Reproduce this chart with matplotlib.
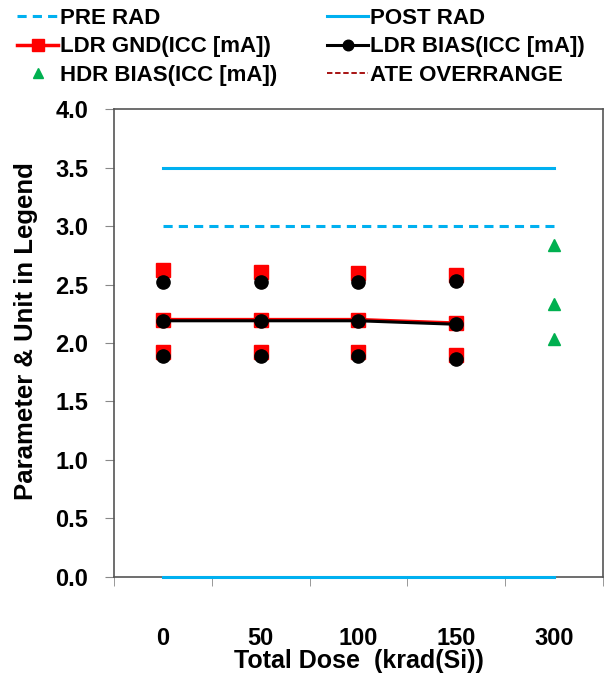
import numpy as np
import matplotlib
matplotlib.use('Agg')
import matplotlib.pyplot as plt

plt.rcParams['font.family'] = ['Liberation Sans', 'DejaVu Sans']
plt.rcParams['font.weight'] = 'bold'

# categories (x axis)
doses = ['0', '50', '100', '150', '300']

# spec limits
pre_rad = [3.0, 3.0, 3.0, 3.0, 3.0]
post_rad = [3.5, 3.5, 3.5, 3.5, 3.5]
post_rad_low = [0.0, 0.0, 0.0, 0.0, 0.0]

# LDR GND (ICC [mA]) : max / mean / min
ldr_gnd_max = [2.62, 2.61, 2.60, 2.58]
ldr_gnd_mean = [2.20, 2.20, 2.20, 2.17]
ldr_gnd_min = [1.92, 1.92, 1.92, 1.90]

# LDR BIAS (ICC [mA]) : max / mean / min
ldr_bias_max = [2.52, 2.52, 2.52, 2.53]
ldr_bias_mean = [2.19, 2.19, 2.19, 2.16]
ldr_bias_min = [1.89, 1.89, 1.89, 1.86]

# HDR BIAS (ICC [mA]) at 300 krad
hdr_bias = [2.84, 2.33, 2.03]

blue = '#00B0F0'
red = '#FF0000'
green = '#00B050'
darkred = '#A00000'

fig = plt.figure(figsize=(6.05, 6.78), dpi=100)
ax = fig.add_axes([0.1884, 0.149, 0.8083, 0.6902])

x = np.arange(len(doses))
xl = x[:4]

l_pre, = ax.plot(x, pre_rad, color=blue, lw=2.2, ls=(0, (3, 2)), label='PRE RAD')
l_post, = ax.plot(x, post_rad, color=blue, lw=2.2, label='POST RAD')
ax.plot(x, post_rad_low, color=blue, lw=2.2, clip_on=False, zorder=5)

l_gnd, = ax.plot(xl, ldr_gnd_mean, color=red, lw=2.5, marker='s', ms=10,
                 label='LDR GND(ICC [mA])')
ax.plot(xl, ldr_gnd_max, ls='none', color=red, marker='s', ms=10)
ax.plot(xl, ldr_gnd_min, ls='none', color=red, marker='s', ms=10)

l_bias, = ax.plot(xl, ldr_bias_mean, color='black', lw=2.2, marker='o', ms=9.5,
                  label='LDR BIAS(ICC [mA])')
ax.plot(xl, ldr_bias_max, ls='none', color='black', marker='o', ms=9.5)
ax.plot(xl, ldr_bias_min, ls='none', color='black', marker='o', ms=9.5)

l_hdr, = ax.plot([x[4]] * len(hdr_bias), hdr_bias, ls='none', color=green,
                 marker='^', ms=9, label='HDR BIAS(ICC [mA])')
l_ate, = ax.plot([], [], color=darkred, lw=1.3, ls=(0, (3, 1.5)),
                 label='ATE OVERRANGE')

ax.set_xlim(-0.5, 4.5)
ax.set_ylim(0, 4)
yt = np.arange(0, 4.01, 0.5)
ax.set_yticks(yt)
ax.set_yticklabels(['%.1f' % v for v in yt])
ax.set_xticks(x)
ax.set_xticklabels(doses)
ax.set_xticks(np.arange(-0.5, 4.6, 1), minor=True)
ax.tick_params(axis='x', which='major', length=0, pad=36, labelsize=17)
ax.tick_params(axis='x', which='minor', length=6.5, color='#888888')
ax.tick_params(axis='y', length=6.5, color='#888888', pad=12, labelsize=17)
for s in ax.spines.values():
    s.set_color('#555555')
    s.set_linewidth(1.2)

ax.set_xlabel('Total Dose  (krad(Si))', fontsize=18, fontweight='bold')
ax.xaxis.set_label_coords(0.5, -0.153)
ax.set_ylabel('Parameter & Unit in Legend', fontsize=18.5, fontweight='bold')
ax.yaxis.set_label_coords(-0.155, 0.526)

kw = dict(loc='upper left', frameon=False, fontsize=16, handlelength=1.85,
          handletextpad=0.1, labelspacing=0.33, borderpad=0, borderaxespad=0,
          markerscale=0.8)
leg1 = fig.legend([l_pre, l_gnd, l_hdr],
                  [l_pre.get_label(), l_gnd.get_label(), l_hdr.get_label()],
                  bbox_to_anchor=(17 / 605, 1 - 8 / 678), **kw)
leg2 = fig.legend([l_post, l_bias, l_ate],
                  [l_post.get_label(), l_bias.get_label(), l_ate.get_label()],
                  bbox_to_anchor=(327 / 605, 1 - 8 / 678), **kw)

fig.savefig('out.png', dpi=100)
